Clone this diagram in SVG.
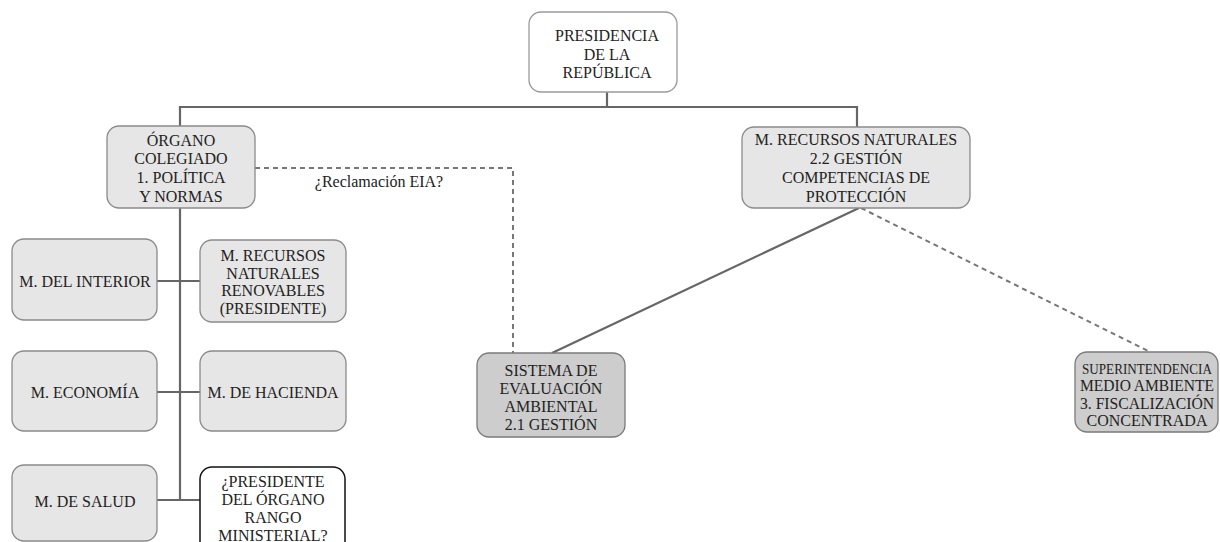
<svg xmlns="http://www.w3.org/2000/svg" width="1220" height="542" viewBox="0 0 1220 542">
<style>
.box{fill:#e6e6e6;stroke:#8a8a8a;stroke-width:1.3}
.dark{fill:#cdcdcd;stroke:#7a7a7a;stroke-width:1.3}
.white{fill:#fff;stroke:#9a9a9a;stroke-width:1.3}
.wblack{fill:#fff;stroke:#111;stroke-width:1.5}
.t{font-size:16px;fill:#222;text-anchor:middle;dominant-baseline:central}
.line{stroke:#666;stroke-width:2.2;fill:none}
.dash{stroke:#777;stroke-width:2;fill:none;stroke-dasharray:5,4}
</style>
<rect width="1220" height="542" fill="#fff"/>
<g font-family="'Liberation Serif', 'Times New Roman', serif">
<g id="connectors">
<polyline class="line" points="607,92 607,107"/>
<polyline class="line" points="180,126 180,107 857,107 857,127"/>
<polyline class="line" points="180,208 180,500"/>
<line class="line" x1="157" y1="281" x2="200" y2="281"/>
<line class="line" x1="157" y1="392" x2="200" y2="392"/>
<line class="line" x1="157" y1="500" x2="200" y2="500"/>
<polyline class="dash" points="255,168 513,168 513,353"/>
<line class="line" x1="859" y1="208" x2="552" y2="353"/>
<line class="dash" x1="861" y1="208" x2="1148" y2="351"/>
<text class="t" x="379" y="181">¿Reclamación EIA?</text>
</g>
<g id="presidencia">
<rect class="white" x="529" y="12" width="148" height="80" rx="12"/>
<text class="t" x="607" y="35">PRESIDENCIA</text>
<text class="t" x="607" y="54">DE LA</text>
<text class="t" x="607" y="72">REPÚBLICA</text>
</g>
<g id="organo">
<rect class="box" x="107" y="126" width="148" height="82" rx="12"/>
<text class="t" x="181" y="140">ÓRGANO</text>
<text class="t" x="181" y="158">COLEGIADO</text>
<text class="t" x="181" y="177">1. POLÍTICA</text>
<text class="t" x="181" y="196">Y NORMAS</text>
</g>
<g id="mrecursos">
<rect class="box" x="742" y="127" width="228" height="81" rx="12"/>
<text class="t" x="856" y="139">M. RECURSOS NATURALES</text>
<text class="t" x="856" y="158">2.2 GESTIÓN</text>
<text class="t" x="856" y="177">COMPETENCIAS DE</text>
<text class="t" x="856" y="196">PROTECCIÓN</text>
</g>
<g id="interior">
<rect class="box" x="12" y="239" width="145" height="81" rx="12"/>
<text class="t" x="85" y="281">M. DEL INTERIOR</text>
</g>
<g id="rnr">
<rect class="box" x="200" y="240" width="146" height="82" rx="12"/>
<text class="t" x="273" y="255">M. RECURSOS</text>
<text class="t" x="273" y="273">NATURALES</text>
<text class="t" x="273" y="290">RENOVABLES</text>
<text class="t" x="273" y="308">(PRESIDENTE)</text>
</g>
<g id="economia">
<rect class="box" x="12" y="351" width="145" height="80" rx="12"/>
<text class="t" x="85" y="392">M. ECONOMÍA</text>
</g>
<g id="hacienda">
<rect class="box" x="200" y="351" width="146" height="80" rx="12"/>
<text class="t" x="273" y="392">M. DE HACIENDA</text>
</g>
<g id="salud">
<rect class="box" x="12" y="465" width="145" height="76" rx="12"/>
<text class="t" x="85" y="501">M. DE SALUD</text>
</g>
<g id="presidente-organo">
<rect class="wblack" x="200" y="467" width="145" height="90" rx="12"/>
<text class="t" x="273" y="481">¿PRESIDENTE</text>
<text class="t" x="273" y="499">DEL ÓRGANO</text>
<text class="t" x="273" y="517">RANGO</text>
<text class="t" x="273" y="535">MINISTERIAL?</text>
</g>
<g id="sistema">
<rect class="dark" x="477" y="353" width="148" height="84" rx="12"/>
<text class="t" x="551" y="370">SISTEMA DE</text>
<text class="t" x="551" y="388">EVALUACIÓN</text>
<text class="t" x="551" y="406">AMBIENTAL</text>
<text class="t" x="551" y="424">2.1 GESTIÓN</text>
</g>
<g id="superintendencia">
<rect class="dark" x="1075" y="352" width="143" height="80" rx="12"/>
<text class="t" x="1147" y="369" style="font-size:15px" textLength="130" lengthAdjust="spacingAndGlyphs">SUPERINTENDENCIA</text>
<text class="t" x="1147" y="385" textLength="134" lengthAdjust="spacingAndGlyphs">MEDIO AMBIENTE</text>
<text class="t" x="1147" y="403" textLength="134" lengthAdjust="spacingAndGlyphs">3. FISCALIZACIÓN</text>
<text class="t" x="1147" y="420">CONCENTRADA</text>
</g>
</g>
</svg>
